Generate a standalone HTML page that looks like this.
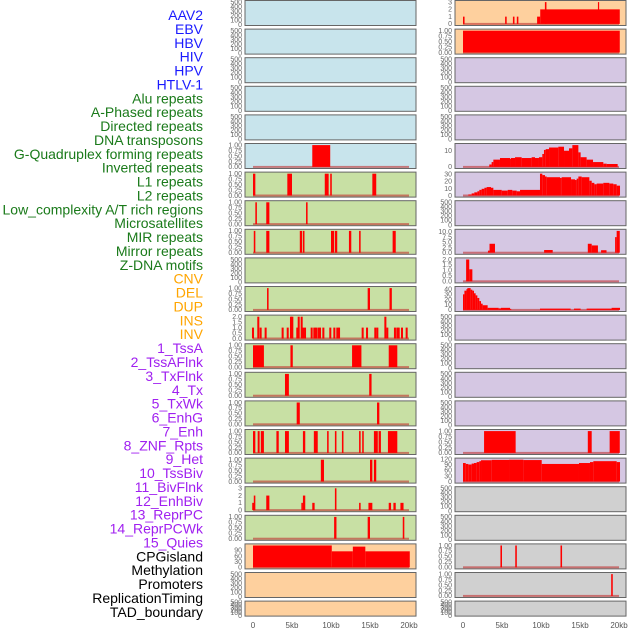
<!DOCTYPE html>
<html><head><meta charset="utf-8">
<style>
html,body{margin:0;padding:0;background:#fff;}
svg{display:block;}
</style></head>
<body>
<svg id="chart" width="630" height="630" xmlns="http://www.w3.org/2000/svg" font-family="Liberation Sans, sans-serif"></svg>
<script>
// ---- data ----
const trackLabels = ["AAV2","EBV","HBV","HIV","HPV","HTLV-1","Alu repeats","A-Phased repeats","Directed repeats","DNA transposons","G-Quadruplex forming repeats","Inverted repeats","L1 repeats","L2 repeats","Low_complexity A/T rich regions","Microsatellites","MIR repeats","Mirror repeats","Z-DNA motifs","CNV","DEL","DUP","INS","INV","1_TssA","2_TssAFlnk","3_TxFlnk","4_Tx","5_TxWk","6_EnhG","7_Enh","8_ZNF_Rpts","9_Het","10_TssBiv","11_BivFlnk","12_EnhBiv","13_ReprPC","14_ReprPCWk","15_Quies","CPGisland","Methylation","Promoters","ReplicationTiming","TAD_boundary"];
const labelGroups = ["v","v","v","v","v","v","r","r","r","r","r","r","r","r","r","r","r","r","r","c","c","c","c","c","s","s","s","s","s","s","s","s","s","s","s","s","s","s","s","o","o","o","o","o"];
const xTickValues = [0,5,10,15,20];
const xTickLabels = ["0","5kb","10kb","15kb","20kb"];

const ticksBinary = [0,0.25,0.5,0.75,1];
const ticksEmpty = [0,100,200,300,400,500];
const ticks2 = [0,0.5,1,1.5,2];
const ticks3 = [0,1,2,3];
const ticks90 = [0,30,60,90];
const ticks10 = [0,10];
const ticks30 = [0,10,20,30];
const ticks10f = [0,2.5,5,7.5,10];
const ticks40 = [0,10,20,30,40];
const ticks120 = [0,30,60,90,120];

// left column tracks [start kb, end kb, value]
const gquadBars = [[7.6,9.9,1]];
const l6Bars = [[0,0.3,1],[4.4,5.0,1],[9.2,9.7,1],[9.9,10.1,1],[15.3,15.8,1]];
const l7Bars = [[0.3,0.5,1],[1.7,2.1,1],[6.8,7.0,1]];
const l8Bars = [[0.1,0.3,1],[1.7,2.1,1],[6.0,6.3,1],[6.4,6.6,1],[10.0,10.4,1],[10.5,10.8,1],[12.3,12.6,1],[13.6,13.8,1],[17.9,18.3,1]];
const l10Bars = [[1.8,2.0,1],[14.7,15.0,1],[17.5,17.8,1]];
const insCenters = [0.0,0.68,0.98,1.62,3.8,4.45,4.87,5.04,5.68,5.86,6.24,6.41,6.67,7.52,7.86,8.08,8.38,8.59,9.02,9.91,10.43,10.81,11.03,14.06,14.62,15.68,15.94,16.97,17.22,18.2,18.5,18.68,19.1,19.7];
const insValues = [1,2,1,1,1,1,2,2,1,2,2,1,1,1,1,1,1,1,1,1,1,1,1,1,1,1,1,2,1,1,1,1,1,1];
const l12Bars = [[0,1.4,1],[4.8,5.1,1],[12.7,13.9,1],[17.4,18.5,1]];
const l13Bars = [[4.1,4.6,1],[14.9,15.2,1]];
const l14Bars = [[5.6,6.0,1],[15.9,16.2,1]];
const l15Bars = [[0,0.3,1],[0.6,0.85,1],[1.0,1.4,1],[3.0,3.3,1],[4.1,4.6,1],[6.4,6.7,1],[7.8,8.3,1],[9.5,9.7,1],[10.5,10.7,1],[11.4,11.6,1],[13.6,13.8,1],[14.0,14.2,1],[15.5,16.0,1],[16.1,16.4,1],[17.3,18.5,1]];
const l16Bars = [[8.7,9.1,1],[15.0,15.3,1],[15.5,15.8,1]];
const l17Bars = [[-0.1,0.2,1],[0.1,0.3,2],[1.7,2.1,2],[6.2,6.4,1],[6.4,6.7,2],[7.6,7.9,1],[10.5,10.7,3],[13.6,13.8,1],[14.8,15.3,1],[17.4,17.7,1],[18.0,18.3,1],[18.9,19.3,1]];
const l18Bars = [[10.4,10.7,1],[14.7,15.0,1],[19.2,19.4,1]];
const cpgSteps = [[0,10.1,116],[10.1,12.8,85],[12.8,14.4,110],[14.4,20.1,85]];

// right column tracks
const r0Bars = [[0,0.2,1],[5.4,5.6,1],[6.4,6.6,1],[6.9,7.1,1],[9.5,9.9,1],[9.9,20.1,2],[10.5,10.7,3],[17.3,17.45,3]];
const r1Bars = [[0,20.1,1]];
const r5Steps = [[3.37,3.67,1.5],[3.67,3.89,3],[3.89,4.74,4.5],[4.74,6.03,5.5],[6.03,6.15,5],[6.15,6.67,5.5],[6.67,7.52,6],[7.52,8.8,5.5],[8.8,9.23,6],[9.23,9.74,5.5],[9.74,10.17,6],[10.17,10.38,8],[10.38,10.6,10.5],[10.6,11.03,11],[11.03,12.22,12],[12.22,12.95,12.5],[12.95,13.59,10],[13.59,14.02,11.5],[14.02,14.79,13.5],[14.79,15.08,9],[15.08,15.85,6],[15.85,16.67,4.5],[16.67,17.99,3],[17.99,18.42,2],[18.42,19.83,1.8]];
const r6Steps = [[0.68,1.11,1.5],[1.11,1.45,3],[1.45,1.84,4.5],[1.84,2.09,6],[2.09,2.39,8],[2.39,2.74,9.5],[2.74,3.03,11],[3.03,3.59,12],[3.59,3.89,11],[3.89,4.96,8],[4.96,5.73,7],[5.73,6.32,8],[6.32,6.88,7],[6.88,7.31,6],[7.31,9.87,8],[9.87,10.17,31],[10.17,10.51,29],[10.51,10.73,27],[10.73,12.44,26],[12.44,12.65,25],[12.65,13.85,26],[13.85,14.36,23],[14.36,14.57,22],[14.57,14.79,24],[14.79,15.21,27],[15.21,16.2,26],[16.2,16.5,21],[16.5,16.84,18],[16.84,17.14,16],[17.14,17.99,17],[17.99,18.76,18],[18.76,19.27,17],[19.27,19.7,16],[19.7,20.13,14]];
const r8Bars = [[3.2,3.4,1],[3.4,4.1,4.3],[10.4,11.5,1.3],[16.0,16.5,4.3],[16.5,17.3,3.5],[17.7,18.4,1.2],[19.5,19.7,7.5],[19.7,20.1,10.5]];
const r9Bars = [[0.4,0.8,2],[0.8,1.2,1.1]];
const r10Steps = [[0,0.18,30],[0.18,0.44,37],[0.44,0.56,40],[0.56,0.98,42],[0.98,1.2,39],[1.2,1.41,37],[1.41,1.62,32],[1.62,1.84,28],[1.84,2.09,23],[2.09,2.31,17],[2.31,2.52,12],[2.52,3.16,9],[3.16,4.57,4],[4.57,4.87,3],[4.87,6.03,4],[6.03,6.15,2],[9.87,13.8,2.5],[14.23,15.08,2.5],[15.85,19.05,2.5],[19.05,20.13,4]];
const r15Bars = [[2.7,6.75,1],[16.0,16.5,1],[18.8,20.1,1]];
const r16Steps = [[0,0.35,100],[0.35,0.68,95],[0.68,1.11,92],[1.11,1.41,97],[1.41,1.75,100],[1.75,2.09,105],[2.09,2.31,110],[2.31,3.68,115],[3.68,5.9,117],[5.9,7.74,118],[7.74,10.09,116],[10.09,14.87,95],[14.87,16.28,100],[16.28,16.71,105],[16.71,19.7,110],[19.7,20.13,105]];
const r19Bars = [[4.8,5.0,1],[6.7,6.9,1],[12.5,12.7,1]];
const r20Bars = [[19.0,19.2,1]];

// ---- rendering ----
const NS = "http://www.w3.org/2000/svg";
const svg = document.getElementById("chart");
function mk(tag, attrs, parent){
  const e = document.createElementNS(NS, tag);
  for (const k in attrs) e.setAttribute(k, attrs[k]);
  (parent||svg).appendChild(e);
  return e;
}
const BG = {b:"#c8e4ec", g:"#c8e0a4", o:"#fed09e", p:"#d5c7e3", y:"#d0d0d0"};
const colX = [245, 455];
const panelW = 171;
const kb0 = [253, 463];
const pxPerKb = 7.8;
function xScale(col, kb){ return kb0[col] + kb*pxPerKb; }

const insBars = insCenters.map((c,i)=>[c-0.13, c+0.13, insValues[i]]);

const leftPanels = [
  {bg:"b"},{bg:"b"},{bg:"b"},{bg:"b"},{bg:"b"},
  {bg:"b", data:gquadBars, max:1, ticks:ticksBinary, fmt:2},
  {bg:"g", data:l6Bars, max:1, ticks:ticksBinary, fmt:2},
  {bg:"g", data:l7Bars, max:1, ticks:ticksBinary, fmt:2},
  {bg:"g", data:l8Bars, max:1, ticks:ticksBinary, fmt:2},
  {bg:"g"},
  {bg:"g", data:l10Bars, max:1, ticks:ticksBinary, fmt:2},
  {bg:"g", data:insBars, max:2, ticks:ticks2, fmt:1},
  {bg:"g", data:l12Bars, max:1, ticks:ticksBinary, fmt:2},
  {bg:"g", data:l13Bars, max:1, ticks:ticksBinary, fmt:2},
  {bg:"g", data:l14Bars, max:1, ticks:ticksBinary, fmt:2},
  {bg:"g", data:l15Bars, max:1, ticks:ticksBinary, fmt:2},
  {bg:"g", data:l16Bars, max:1, ticks:ticksBinary, fmt:2},
  {bg:"g", data:l17Bars, max:3, ticks:ticks3, fmt:0},
  {bg:"g", data:l18Bars, max:1, ticks:ticksBinary, fmt:2},
  {bg:"o", data:cpgSteps, max:116, ticks:ticks90, fmt:0},
  {bg:"o"},{bg:"o"}
];
const rightPanels = [
  {bg:"o", data:r0Bars, max:3, ticks:ticks3, fmt:0},
  {bg:"o", data:r1Bars, max:1, ticks:ticksBinary, fmt:2},
  {bg:"p"},{bg:"p"},{bg:"p"},
  {bg:"p", data:r5Steps, max:13.5, ticks:ticks10, fmt:0},
  {bg:"p", data:r6Steps, max:31, ticks:ticks30, fmt:0},
  {bg:"p"},
  {bg:"p", data:r8Bars, max:10.5, ticks:ticks10f, fmt:1},
  {bg:"p", data:r9Bars, max:2, ticks:ticks2, fmt:1},
  {bg:"p", data:r10Steps, max:42, ticks:ticks40, fmt:0},
  {bg:"p"},{bg:"p"},{bg:"p"},{bg:"p"},
  {bg:"p", data:r15Bars, max:1, ticks:ticksBinary, fmt:2},
  {bg:"p", data:r16Steps, max:118, ticks:ticks120, fmt:0},
  {bg:"y"},{bg:"y"},
  {bg:"y", data:r19Bars, max:1, ticks:ticksBinary, fmt:2},
  {bg:"y", data:r20Bars, max:1, ticks:ticksBinary, fmt:2},
  {bg:"y"}
];

function drawPanel(col, row, p){
  const top = row*28.6 + 0.5;
  const h = row === 21 ? 15 : 25;
  const x = colX[col];
  const g = mk("g", {});
  
  
  const bg = mk("rect", {x:x, y:top, width:panelW, height:h, fill:BG[p.bg], stroke:"#666", "stroke-width":1}, g);
  
  
  const inTop = top + 0.5, inBot = top + h - 0.5;
  let lo, hi, ticks, fmt;
  if (p.data){ lo = -0.05*p.max; hi = 1.05*p.max; ticks = p.ticks; fmt = p.fmt; }
  else { lo = -5; hi = 525; ticks = ticksEmpty; fmt = 0; }
  const yScale = v => inBot - (v - lo)/(hi - lo)*(inBot - inTop);
  ticks.forEach(t=>{
    const tl = mk("text", {x:x-3, y:yScale(t)+2.3, "font-size":7, fill:"#666", "text-anchor":"end"}, g);
    tl.textContent = t.toFixed(fmt);
    
    
  });
  if (p.data){
    const base = mk("rect", {x:xScale(col,0), y:yScale(0)-1, width:20*pxPerKb, height:2, fill:"#c03030", opacity:0.6}, g);
    
    
    p.data.forEach(d=>{
      const x1 = xScale(col, d[0]), x2 = xScale(col, d[1]);
      const y1 = yScale(d[2]), y0 = yScale(0);
      const r = mk("rect", {x:x1, y:y1, width:Math.max(1.2, x2-x1), height:Math.max(0, y0-y1), fill:"#ff0000"}, g);
      
      
    });
  }
}
leftPanels.forEach((p,i)=>drawPanel(0,i,p));
rightPanels.forEach((p,i)=>drawPanel(1,i,p));

[0,1].forEach(col=>{
  xTickValues.forEach((v,i)=>{
    const t = mk("text", {x:xScale(col,v), y:628, "font-size":8, fill:"#555", "text-anchor":"middle"});
    t.textContent = xTickLabels[i];
    
    
  });
});

const LC = {v:"#1a1aff", r:"#1a7a1a", c:"#ffa500", s:"#a020f0", o:"#000000"};
trackLabels.forEach((lab,i)=>{
  const t = mk("text", {x:203, y:15 + i*13.88 + 5, "font-size":14, fill:LC[labelGroups[i]], "text-anchor":"end"});
  t.textContent = lab;
  
  
});
</script>
</body></html>
